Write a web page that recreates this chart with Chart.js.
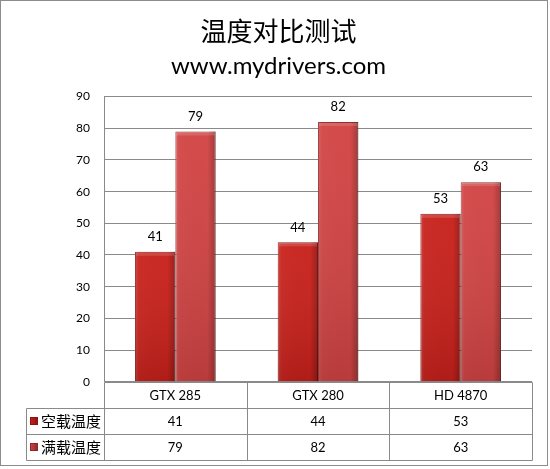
<!DOCTYPE html>
<html>
<head>
<meta charset="utf-8">
<script src="https://cdn.jsdelivr.net/npm/chart.js@4.4.1/dist/chart.umd.min.js"></script>
<style>
    html, body { margin: 0; padding: 0; background: #fff; }
    #wrap { width: 550px; height: 469px; }
</style>
</head>
<body>
<div id="wrap"><canvas id="tempChart"></canvas></div>
<script>
// chart data
const titleText = '温度对比测试';
const subtitleText = 'www.mydrivers.com';
const categories = ['GTX 285', 'GTX 280', 'HD 4870'];
const seriesNames = ['空载温度', '满载温度'];
const idleTemps = [41, 44, 53];
const loadTemps = [79, 82, 63];
const yMin = 0;
const yMax = 90;
const yStep = 10;

const gridColor = '#8a8a8a';
const barColors = ['#c8201a', '#d24343'];
const barBorders = ['#8a140f', '#8e2828'];
const latin = 'Lato, "Noto Sans", sans-serif';
const cjk = '"Noto Sans CJK SC", sans-serif';

// shade the bars a little so they look like the old excel bevel
const bevelPlugin = {
    id: 'bevel',
    afterDatasetsDraw(chart) {
        const ctx = chart.ctx;
        chart.data.datasets.forEach((ds, i) => {
            chart.getDatasetMeta(i).data.forEach(bar => {
                const left = bar.x - bar.width / 2;
                const right = bar.x + bar.width / 2;
                const top = bar.y;
                const bottom = bar.base;
                const g = ctx.createLinearGradient(left, 0, right, 0);
                g.addColorStop(0, 'rgba(255,255,255,0.12)');
                g.addColorStop(0.1, 'rgba(255,255,255,0.02)');
                g.addColorStop(0.8, 'rgba(0,0,0,0)');
                g.addColorStop(1, 'rgba(0,0,0,0.25)');
                ctx.save();
                ctx.fillStyle = g;
                ctx.fillRect(left, top, right - left, bottom - top);
                const v = ctx.createLinearGradient(0, top, 0, bottom);
                v.addColorStop(0, 'rgba(255,255,255,0.04)');
                v.addColorStop(1, 'rgba(0,0,0,0.12)');
                ctx.fillStyle = v;
                ctx.fillRect(left, top, right - left, bottom - top);
                ctx.fillStyle = 'rgba(255,255,255,0.14)';
                ctx.fillRect(left + 1, top + 1, right - left - 2, 3);
                ctx.restore();
            });
        });
    }
};

// value labels above the bars
const valueLabelPlugin = {
    id: 'valueLabels',
    afterDatasetsDraw(chart) {
        const ctx = chart.ctx;
        ctx.save();
        ctx.font = '13px ' + latin;
        ctx.fillStyle = '#000';
        ctx.textAlign = 'center';
        ctx.textBaseline = 'middle';
        chart.data.datasets.forEach((ds, i) => {
            chart.getDatasetMeta(i).data.forEach((bar, j) => {
                ctx.fillText(String(ds.data[j]), bar.x, bar.y - 15);
            });
        });
        ctx.restore();
    }
};

// excel style data table under the x axis, plus the outer frame
const dataTablePlugin = {
    id: 'dataTable',
    afterDraw(chart) {
        const ctx = chart.ctx;
        const area = chart.chartArea;
        const x = chart.scales.x;
        const rows = [26.6, 26, 25.7];
        const legendLeft = 25.5;
        const y0 = area.bottom;
        const y1 = y0 + rows[0];
        const y2 = y1 + rows[1];
        const y3 = y2 + rows[2];
        const px = v => Math.round(v) + 0.5;

        const cols = [area.left];
        for (let i = 0; i < categories.length - 1; i++) {
            cols.push((x.getPixelForTick(i) + x.getPixelForTick(i + 1)) / 2);
        }
        cols.push(area.right);

        ctx.save();
        ctx.strokeStyle = gridColor;
        ctx.lineWidth = 1;
        ctx.beginPath();
        ctx.moveTo(px(area.left), px(y0)); ctx.lineTo(px(area.right), px(y0));
        [y1, y2, y3].forEach(y => {
            ctx.moveTo(px(legendLeft), px(y)); ctx.lineTo(px(area.right), px(y));
        });
        cols.forEach(c => {
            ctx.moveTo(px(c), px(y0)); ctx.lineTo(px(c), px(y3));
        });
        ctx.moveTo(px(legendLeft), px(y1)); ctx.lineTo(px(legendLeft), px(y3));
        ctx.stroke();

        // outer frame of the picture
        ctx.strokeStyle = '#8c8c8c';
        ctx.strokeRect(0.5, 0.5, 547, 465);

        ctx.fillStyle = '#000';
        ctx.textAlign = 'center';
        ctx.textBaseline = 'middle';
        ctx.font = '13px ' + latin;
        categories.forEach((c, i) => {
            ctx.fillText(c, x.getPixelForTick(i), (y0 + y1) / 2 + 1);
        });
        const rowData = [idleTemps, loadTemps];
        const rowMids = [(y1 + y2) / 2, (y2 + y3) / 2];
        rowData.forEach((vals, r) => {
            vals.forEach((v, i) => {
                ctx.fillText(String(v), x.getPixelForTick(i), rowMids[r] + 1);
            });
        });

        // legend keys
        ctx.textAlign = 'left';
        ctx.font = '15px ' + cjk;
        seriesNames.forEach((name, r) => {
            const my = rowMids[r];
            const sq = ctx.createLinearGradient(30, 0, 38, 0);
            sq.addColorStop(0, barColors[r]);
            sq.addColorStop(1, barBorders[r]);
            ctx.fillStyle = sq;
            ctx.fillRect(30, Math.round(my) - 4, 8, 8);
            ctx.strokeStyle = barBorders[r];
            ctx.strokeRect(30.5, Math.round(my) - 3.5, 7, 7);
            ctx.fillStyle = '#000';
            ctx.fillText(name, 41, my);
        });
        ctx.restore();
    }
};

new Chart(document.getElementById('tempChart'), {
    type: 'bar',
    data: {
        labels: categories,
        datasets: [
            {
                label: seriesNames[0],
                data: idleTemps,
                backgroundColor: barColors[0],
                borderColor: barBorders[0],
                borderWidth: 1
            },
            {
                label: seriesNames[1],
                data: loadTemps,
                backgroundColor: barColors[1],
                borderColor: barBorders[1],
                borderWidth: 1
            }
        ]
    },
    options: {
        responsive: true,
        maintainAspectRatio: false,
        animation: false,
        devicePixelRatio: 1,
        layout: {
            padding: { left: 25, right: 18, top: 0, bottom: 9 }
        },
        datasets: {
            bar: { categoryPercentage: 0.565, barPercentage: 1 }
        },
        scales: {
            x: {
                ticks: { display: false },
                grid: { display: false },
                border: { display: false },
                afterFit(scale) { scale.height = 78.3; }
            },
            y: {
                min: yMin,
                max: yMax,
                ticks: {
                    stepSize: yStep,
                    color: '#000',
                    padding: 14,
                    font: { family: latin, size: 12 }
                },
                grid: { color: gridColor, drawTicks: false },
                border: { display: true, color: gridColor },
                afterFit(scale) { scale.width = 79; }
            }
        },
        plugins: {
            legend: { display: false },
            tooltip: { enabled: false },
            title: {
                display: true,
                text: titleText,
                color: '#000',
                font: { family: cjk, size: 26, weight: 'normal' },
                padding: { top: 16, bottom: 2 }
            },
            subtitle: {
                display: true,
                text: subtitleText,
                color: '#000',
                font: { family: latin, size: 24, weight: 'normal' },
                padding: { top: 3, bottom: 15.6 }
            }
        }
    },
    plugins: [bevelPlugin, valueLabelPlugin, dataTablePlugin]
});
</script>
</body>
</html>
